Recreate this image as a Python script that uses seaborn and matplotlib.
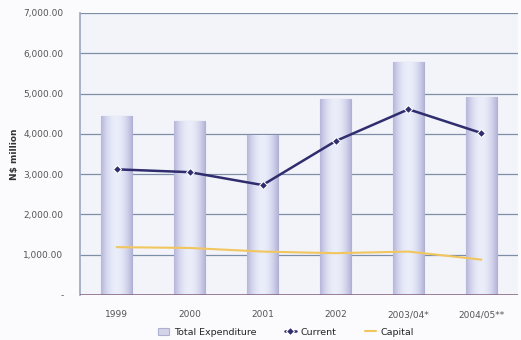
import numpy as np
import pandas as pd
import matplotlib
matplotlib.use("Agg")
import matplotlib.pyplot as plt
import seaborn as sns

years = ["1999", "2000", "2001", "2002", "2003/04*", "2004/05**"]
total_expenditure = [4450, 4330, 3970, 4860, 5780, 4910]
current = [3120, 3050, 2730, 3820, 4610, 4020]
capital = [1190, 1170, 1080, 1040, 1080, 880]
y_ticks = [0, 1000, 2000, 3000, 4000, 5000, 6000, 7000]

df = pd.DataFrame({"year": years, "Total Expenditure": total_expenditure,
                   "Current": current, "Capital": capital})

sns.set_theme(style="white")
plt.rcParams["font.family"] = ["DejaVu Sans"]

fig = plt.figure(figsize=(5.21, 3.4), dpi=100)
fig.patch.set_facecolor("#fbfbfd")
ax = fig.add_axes([0.154, 0.132, 0.840, 0.830])
ax.set_facecolor("#f3f4fa")

sns.barplot(data=df, x="year", y="Total Expenditure", ax=ax, width=0.42,
            color="#d0d0ec", edgecolor="#b0b0d2", linewidth=0.8,
            label="Total Expenditure", zorder=2)

# cylinder-like shading on each bar
grad = np.linspace(-1, 1, 64)
shade = 1 - grad ** 2
cmap = matplotlib.colors.LinearSegmentedColormap.from_list(
    "bar", ["#b6b6da", "#eaedfa"])
for p in ax.patches:
    x0, y0 = p.get_x(), p.get_y()
    w, h = p.get_width(), p.get_height()
    im = ax.imshow(shade[np.newaxis, :], cmap=cmap, aspect="auto",
                   extent=[x0, x0 + w, y0, y0 + h], zorder=2.1,
                   interpolation="bicubic")
    im.set_clip_path(p)

sns.lineplot(data=df, x="year", y="Capital", ax=ax, color="#f2c65e",
             linewidth=1.5, label="Capital", zorder=3, sort=False)
sns.lineplot(data=df, x="year", y="Current", ax=ax, color="#2f2d6e",
             linewidth=1.8, marker="D", markersize=4.5, label="Current",
             zorder=4, sort=False)

ax.set_xlim(-0.5, 5.5)
ax.set_ylim(0, 7000)
ax.set_yticks(y_ticks)
ax.set_yticklabels(["-" if v == 0 else f"{v:,.2f}" for v in y_ticks],
                   fontsize=6.5, color="#555555")
ax.tick_params(axis="x", labelsize=6.5, colors="#555555", pad=5)
ax.tick_params(axis="y", pad=6)
for v in y_ticks[1:]:
    ax.axhline(v, color="#7d8ea8", linewidth=0.9, zorder=1)
ax.axhline(0, color="#8a6a8a", linewidth=1.2, zorder=5)
ax.set_xlabel("")
ax.set_ylabel("N$ million", fontsize=6.5, fontweight="bold", color="#333333",
              labelpad=3)
for side in ["top", "right"]:
    ax.spines[side].set_visible(False)
ax.spines["left"].set_color("#a0a8c0")
ax.spines["bottom"].set_visible(False)

handles, labels = ax.get_legend_handles_labels()
order = [labels.index(n) for n in ["Total Expenditure", "Current", "Capital"]]
ax.legend([handles[i] for i in order], [labels[i] for i in order],
          loc="upper center", bbox_to_anchor=(0.47, -0.085), ncol=3,
          frameon=False, fontsize=6.8, handlelength=1.2, handletextpad=0.5,
          columnspacing=3.0)

fig.savefig("out.png", dpi=100, facecolor=fig.get_facecolor())
